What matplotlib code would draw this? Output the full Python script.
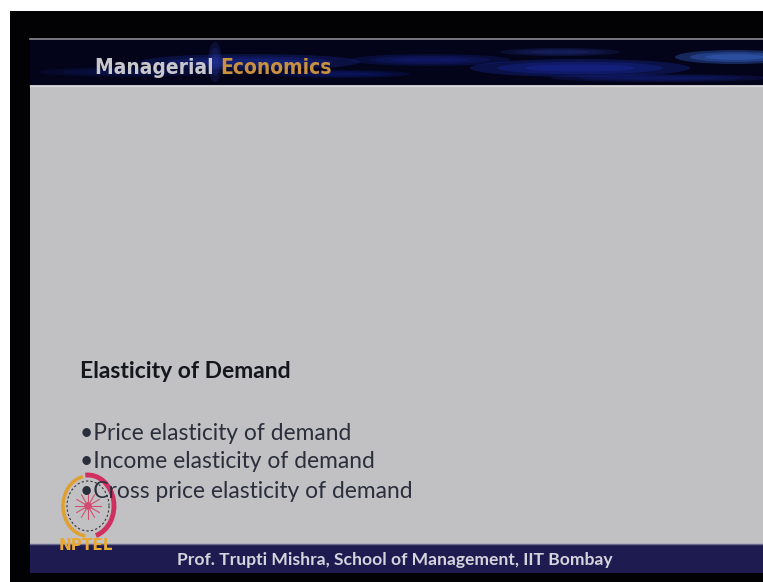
import matplotlib.pyplot as plt
import matplotlib.patches as mpatches
import numpy as np

# slide texts
title_left = 'Managerial'
title_right = 'Economics'
heading = 'Elasticity of Demand'
bullets = ['•Price elasticity of demand',
           '•Income elasticity of demand',
           '•Cross price elasticity of demand']
bullet_y = [434, 462, 491]
footer = 'Prof. Trupti Mishra, School of Management, IIT Bombay'
logo_text = 'NPTEL'

W, H = 763, 582
fig = plt.figure(figsize=(W/100, H/100), dpi=100)
fig.patch.set_facecolor('white')
ax = fig.add_axes([0, 0, 1, 1])
ax.set_xlim(0, W)
ax.set_ylim(H, 0)
ax.axis('off')

def rect(x0, y0, x1, y1, c, **kw):
    ax.add_patch(mpatches.Rectangle((x0, y0), x1-x0, y1-y0, facecolor=c, edgecolor='none', **kw))

# screen frame
rect(10, 11, W, H, '#020204')
# header band
rect(30, 39, W, 85, '#03041a')
# soft streaks in header
streaks = [(250, 62, 220, 16, '#1c2c9c', 0.5), (130, 72, 180, 10, '#0e1a66', 0.4),
           (430, 60, 160, 12, '#16248a', 0.45), (580, 68, 220, 18, '#1c30b0', 0.5),
           (735, 57, 120, 14, '#3a6ad0', 0.6), (660, 78, 220, 8, '#182690', 0.4),
           (340, 74, 140, 8, '#122088', 0.4), (560, 52, 120, 8, '#24348a', 0.4),
           (215, 62, 14, 40, '#2a3aa0', 0.35)]
for sx, sy, sw, sh, sc, sa in streaks:
    for k in range(3):
        ax.add_patch(mpatches.Ellipse((sx, sy), sw*(1-0.25*k), sh*(1-0.3*k),
                                      facecolor=sc, edgecolor='none', alpha=sa*0.6))
ax.plot([30, W], [38.5, 38.5], color='#8a8a92', lw=1.2)
# content area
rect(30, 85, W, 544, '#c1c1c4')
ax.plot([30, W], [85.5, 85.5], color='#d6d6d8', lw=1)
# footer band
rect(30, 544, W, 573, '#1d1b4f')
ax.plot([30, W], [544, 544], color='#6a6a90', lw=1)

# header title
tfont = dict(family=['DejaVu Sans'], fontstretch='condensed', fontweight='bold',
             fontsize=15, va='center')
t1 = ax.text(95, 68, title_left + ' ', color='#c8c8cc', **tfont)
fig.canvas.draw()
bb = t1.get_window_extent()
ax.text(bb.x1, H - 68, title_right, color='#c89040', transform=None, **tfont)

# body text
bfont = ['Lato', 'DejaVu Sans']
ax.text(80, 372, heading, color='#14161e', fontsize=16.5, fontweight='bold', family=bfont, va='center')
for t, y in zip(bullets, bullet_y):
    ax.text(80, y, t, color='#2b2f3c', fontsize=16.4, family=bfont, va='center')

# footer text
ax.text(395, 560, footer, color='#d4d4dc', fontsize=12.6, fontweight='bold',
        family=bfont, ha='center', va='center')

# NPTEL logo
cx, cy = 88, 506
ax.add_patch(mpatches.Arc((cx, cy), 50, 60, theta1=95, theta2=260, color='#e0a030', lw=2.5))
ax.add_patch(mpatches.Arc((cx, cy), 52, 62, theta1=-95, theta2=75, color='#d03060', lw=3.5))
ax.add_patch(mpatches.Arc((cx, cy), 42, 50, theta1=0, theta2=360, color='#3a3030', lw=0.8, ls=(0, (2, 2))))
for a in np.arange(0, 360, 30):
    r = np.deg2rad(a)
    ax.plot([cx, cx + 13*np.cos(r)], [cy, cy + 13*np.sin(r)], color='#d05070', lw=0.8)
ax.add_patch(mpatches.Circle((cx, cy), 3, color='#e03070'))
ax.text(86, 545, logo_text, color='#e8a838', fontsize=11, fontweight='bold',
        family=['DejaVu Sans'], ha='center', va='center')

fig.savefig('out.png', dpi=100, facecolor=fig.get_facecolor())
